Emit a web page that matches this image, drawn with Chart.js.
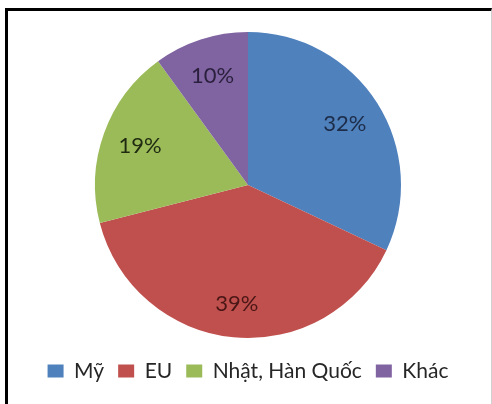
<!DOCTYPE html>
<html>
<head>
<meta charset="utf-8">
<script src="https://cdn.jsdelivr.net/npm/chart.js@4.4.1/dist/chart.umd.min.js"></script>
<style>
  html, body { margin: 0; padding: 0; background: #fff; }
  #khung {
    position: absolute; left: 5px; top: 8px; width: 483px; height: 400px;
    border-left: 3px solid #000; border-top: 3px solid #000; border-right: 1px solid #d0d0d0;
  }
  #wrap { position: absolute; left: 0; top: 0; width: 492px; height: 404px; }
</style>
</head>
<body>
<div id="khung"></div>
<div id="wrap"><canvas id="grafico-pizza"></canvas></div>
<script>
// thị phần xuất khẩu theo thị trường (%)
const THI_TRUONG = ['Mỹ', 'EU', 'Nhật, Hàn Quốc', 'Khác'];
const TY_LE = [32, 39, 19, 10];
const MAU = ['#4f81bd', '#c0504d', '#9bbb59', '#8064a2'];
const MAU_CHU = ['#1d2c48', '#4a1616', '#1f2a10', '#2a1f3c'];

// ghi % lên giữa mỗi lát
const nhanPhanTram = {
    id: 'nhanPhanTram',
    afterDatasetsDraw(chart) {
        const ctx = chart.ctx;
        const meta = chart.getDatasetMeta(0);
        ctx.save();
        ctx.font = '22px Lato, "Noto Sans", sans-serif';
        ctx.textAlign = 'center';
        ctx.textBaseline = 'middle';
        meta.data.forEach(function(arc, i) {
            const p = arc.getProps(['x', 'y', 'startAngle', 'endAngle', 'outerRadius']);
            const goc = (p.startAngle + p.endAngle) / 2;
            const r = p.outerRadius * (i === 1 ? 0.78 : 0.75);
            ctx.fillStyle = MAU_CHU[i];
            ctx.fillText(TY_LE[i] + '%', p.x + Math.cos(goc) * r, p.y + Math.sin(goc) * r);
        });
        ctx.restore();
    }
};

new Chart(document.getElementById('grafico-pizza'), {
    type: 'pie',
    data: {
        labels: THI_TRUONG,
        datasets: [{
            data: TY_LE,
            backgroundColor: MAU,
            borderWidth: 0,
            hoverOffset: 0,
            radius: 153
        }]
    },
    options: {
        responsive: true,
        maintainAspectRatio: false,
        animation: false,
        layout: { padding: { top: 23.5, bottom: 12.5, left: 4, right: 0 } },
        plugins: {
            tooltip: { enabled: false },
            legend: {
                position: 'bottom',
                labels: {
                    boxWidth: 16,
                    boxHeight: 13,
                    padding: 14,
                    color: '#262626',
                    font: { family: 'Lato, "Noto Sans", sans-serif', size: 21 }
                }
            }
        }
    },
    plugins: [nhanPhanTram]
});
</script>
</body>
</html>
